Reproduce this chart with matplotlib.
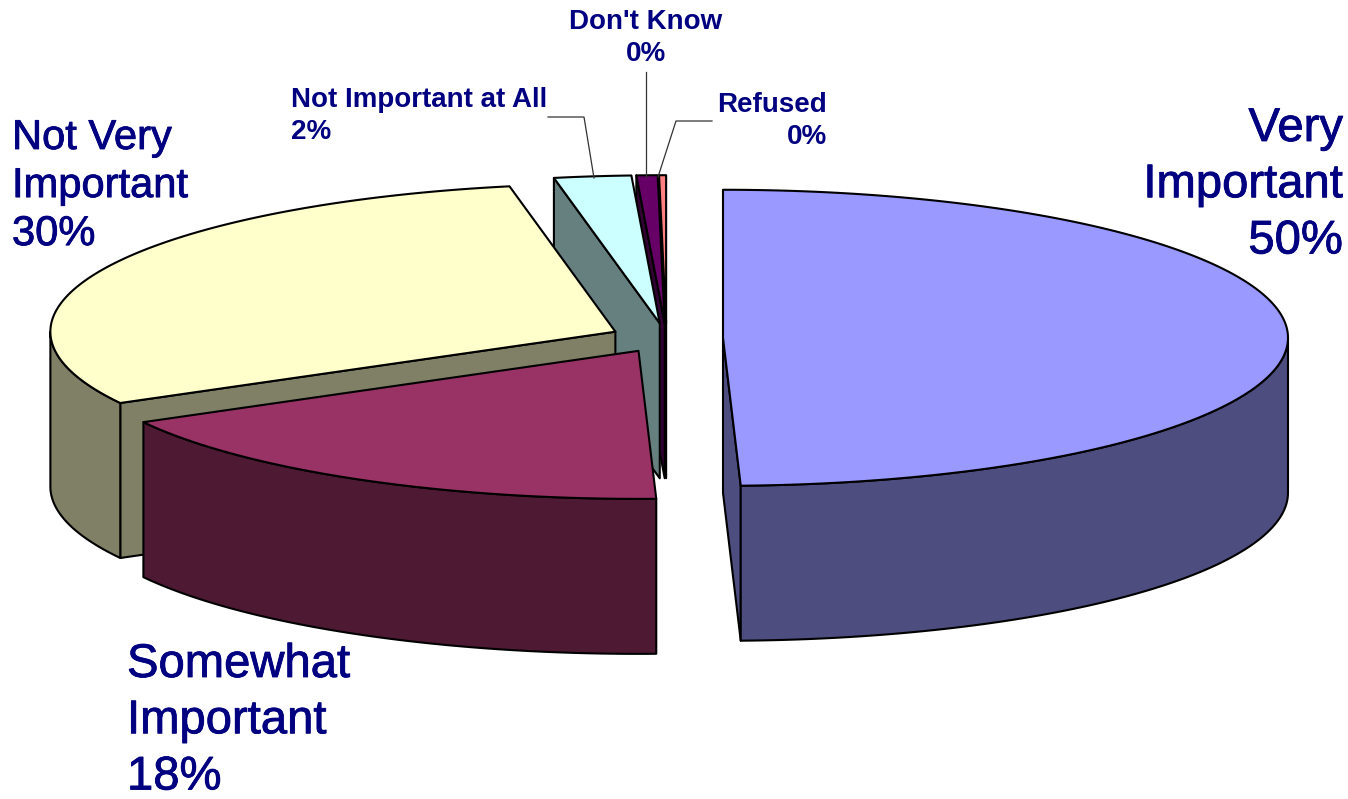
"""Exploded 3D-style pie of importance ratings."""

import numpy as np
import matplotlib

matplotlib.use("Agg")

import matplotlib.pyplot as plt  # noqa: E402
import matplotlib.patheffects as pe  # noqa: E402
from matplotlib.patches import Polygon  # noqa: E402

categories = ["Very Important", "Somewhat Important", "Not Very Important",
              "Not Important at All", "Don't Know", "Refused"]
shares = [49.5, 17.5, 30.0, 2.2, 0.6, 0.2]
percent_labels = ["50%", "18%", "30%", "2%", "0%", "0%"]

top_colors = ["#9999ff", "#993366", "#ffffcc", "#ccffff", "#660066", "#ff8080"]
side_colors = ["#4d4d80", "#4d1933", "#808066", "#668080", "#330033", "#804040"]

# Pie geometry in pixels
CX, CY = 666.5, 338
RX, RY = 565, 148
DEPTH = 155
EXPLODE = 0.10
INK = "#000080"
EDGE_LW = 1.5

plt.rcParams["font.family"] = ["Liberation Sans", "DejaVu Sans"]

fig = plt.figure(figsize=(13.48, 7.99), dpi=100)
ax = fig.add_axes([0, 0, 1, 1])
ax.set_xlim(0, 1348)
ax.set_ylim(799, 0)
ax.axis("off")


def rim(ax_, ay_, t):
    """Point(s) on a slice's rim, t in degrees clockwise from 12 o'clock."""
    r = np.radians(t)
    return np.column_stack([ax_ + RX * np.sin(r), ay_ - RY * np.cos(r)])


def face(points, color, z):
    ax.add_patch(Polygon(points, closed=True, facecolor=color, edgecolor="black",
                         linewidth=EDGE_LW, joinstyle="round", zorder=z))


def draw_slice(start, end, top, side, z):
    mid = np.radians((start + end) / 2)
    apex_x = CX + EXPLODE * RX * np.sin(mid)
    apex_y = CY - EXPLODE * RY * np.cos(mid)
    apex = np.array([apex_x, apex_y])
    down = np.array([0, DEPTH])

    # Radial cut faces, only those turned toward the viewer
    for t, visible in ((start, np.sin(np.radians(start)) < -1e-6),
                       (end, np.sin(np.radians(end)) > 1e-6)):
        if visible:
            p = rim(apex_x, apex_y, np.array([t]))[0]
            face([apex, p, p + down, apex + down], side, z)

    # Outer wall, front half of the rim only
    lo, hi = max(start, 90), min(end, 270)
    if hi > lo:
        arc = rim(apex_x, apex_y, np.linspace(lo, hi, 80))
        face(np.vstack([arc, arc[::-1] + down]), side, z)

    ts = np.linspace(start, end, max(int(end - start) * 2, 4))
    face(np.vstack([apex, rim(apex_x, apex_y, ts)]), top, z + 0.5)


edges = np.concatenate([[0], np.cumsum(shares)]) * 3.6
# Back to front so nearer slices cover farther ones
paint_order = [5, 4, 3, 2, 1, 0]
for n, i in enumerate(paint_order):
    draw_slice(edges[i], edges[i + 1], top_colors[i], side_colors[i], 2 + n)

# Leader lines
leader = dict(color="#333333", linewidth=0.9, zorder=20)
ax.plot([548, 584, 594], [117, 117, 178], **leader)
ax.plot([646, 646], [72, 177], **leader)
ax.plot([712, 676, 658], [121, 121, 177], **leader)

heavy = [pe.withStroke(linewidth=0.6, foreground=INK)]
big = dict(color=INK, va="top", path_effects=heavy, zorder=30)
small = dict(color=INK, linespacing=1.3, va="top", fontweight="bold", fontsize=20, zorder=30)

ax.text(1343, 107, "Very\nImportant\n" + percent_labels[0], ha="right", fontsize=34,
        multialignment="right", linespacing=1.36, **big)
ax.text(127, 643, "Somewhat\nImportant\n" + percent_labels[1], ha="left", fontsize=34,
        multialignment="left", linespacing=1.36, **big)
ax.text(12, 118, "Not Very\nImportant\n" + percent_labels[2], ha="left", fontsize=30,
        multialignment="left", linespacing=1.26, **big)
ax.text(291, 87, categories[3] + "\n" + percent_labels[3], ha="left",
        multialignment="left", **small)
ax.text(646, 9, categories[4] + "\n" + percent_labels[4], ha="center",
        multialignment="center", **small)
ax.text(827, 92, categories[5] + "\n" + percent_labels[5], ha="right",
        multialignment="right", **small)

fig.savefig("out.png", dpi=100, facecolor="white")
plt.close(fig)
